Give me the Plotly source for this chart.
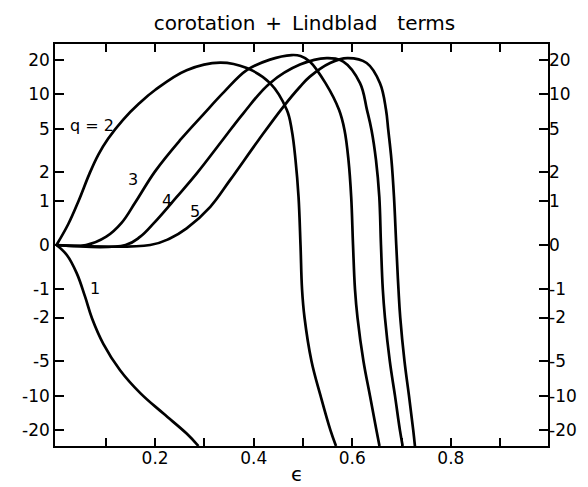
import numpy as np
import plotly.graph_objects as go

# ---- data (epsilon, value) ----
q1_x = [0, 0.021, 0.041, 0.058, 0.072, 0.095, 0.129, 0.17, 0.217, 0.264, 0.288]
q1_y = [0, -0.2, -0.59, -1.22, -2.03, -3.5, -6.0, -9.5, -14.3, -21.3, -27.3]

q2_x = [0, 0.024, 0.045, 0.067, 0.085, 0.105, 0.135, 0.168, 0.2, 0.264, 0.332,
        0.386, 0.4332, 0.4671, 0.4772, 0.4849, 0.491, 0.495, 0.4981, 0.5031,
        0.5173, 0.5356, 0.5558, 0.567]
q2_y = [0, 0.43, 1.0, 1.95, 2.94, 4.1, 6.0, 8.35, 10.9, 16.2, 18.85,
        16.9, 12.5, 7.33, 4.89, 2.62, 1.11, 0, -1, -2,
        -5, -10, -20, -27.3]

q3_x = [0, 0.06, 0.101, 0.132, 0.16, 0.2, 0.251, 0.298, 0.34, 0.386, 0.433, 0.477,
        0.495, 0.5143, 0.5457, 0.5731, 0.5842, 0.5923, 0.5978, 0.6015, 0.6055,
        0.6106, 0.6227, 0.6359, 0.6491, 0.6552]
q3_y = [0, 0, 0.166, 0.454, 0.956, 2.05, 3.98, 6.7, 10.5, 16.2, 20.0, 21.9,
        21.5, 19.2, 12.5, 7.33, 4.89, 2.62, 1.11, 0, -1,
        -2, -5, -10, -20, -27.3]

q4_x = [0, 0.14, 0.17, 0.197, 0.244, 0.285, 0.337, 0.379, 0.433, 0.494, 0.548,
        0.5818, 0.6157, 0.6298, 0.639, 0.6481, 0.6548, 0.6582, 0.6619, 0.6663,
        0.6761, 0.6866, 0.6967, 0.7022]
q4_y = [0, 0, 0.166, 0.443, 1.11, 1.97, 3.98, 6.84, 12.5, 18.1, 20.6,
        19.2, 12.5, 7.33, 4.89, 2.62, 1.11, 0, -1, -2,
        -5, -10, -20, -27.3]

q5_x = [0, 0.19, 0.23, 0.264, 0.312, 0.352, 0.41, 0.46, 0.494, 0.514, 0.555, 0.59,
        0.6292, 0.6562, 0.6684, 0.673, 0.6795, 0.6846, 0.6892, 0.6937, 0.6973,
        0.7059, 0.715, 0.7237, 0.7271]
q5_y = [0, 0, 0.13, 0.336, 0.836, 1.68, 3.98, 7.79, 11.64, 14.24, 18.7, 20.6,
        18.7, 12.5, 7.33, 4.89, 2.62, 1.11, 0, -1, -2,
        -5, -10, -20, -27.3]

x_tickvals = [0.1, 0.2, 0.3, 0.4, 0.5, 0.6, 0.7, 0.8, 0.9]
x_ticktext = ["", "0.2", "", "0.4", "", "0.6", "", "0.8", ""]
y_tick_values = [20, 10, 5, 2, 1, 0, -1, -2, -5, -10, -20]
y_tick_text = ["20", "10", "5", "2", "1", "0", "-1", "-2", "-5", "-10", "-20"]

labels = ["q = 2", "3", "4", "5", "1"]
label_x = [0.072, 0.156, 0.224, 0.28, 0.0785]
label_y = [5.4, 1.7, 1.02, 0.71, -0.99]

FONT = "DejaVu Sans"

def tr(v):
    return np.arcsinh(np.asarray(v, dtype=float))

fig = go.Figure()
for xs, ys in [(q1_x, q1_y), (q2_x, q2_y), (q3_x, q3_y), (q4_x, q4_y), (q5_x, q5_y)]:
    fig.add_trace(go.Scatter(x=xs, y=tr(ys), mode="lines",
                             line=dict(color="black", width=2.7, shape="spline", smoothing=1.1),
                             showlegend=False, hoverinfo="skip"))
# invisible trace to anchor the right-hand axis
fig.add_trace(go.Scatter(x=[0.5], y=[0], yaxis="y2", mode="markers",
                         marker=dict(opacity=0), showlegend=False, hoverinfo="skip"))

for t, lx, ly in zip(labels, label_x, label_y):
    fig.add_annotation(x=lx, y=float(tr(ly)), text=t, showarrow=False,
                       font=dict(family=FONT, size=16, color="black"))

fig.add_annotation(x=0.49, y=-0.07, xref="paper", yref="paper", text="ϵ", showarrow=False,
                   yanchor="middle",
                   font=dict(family=FONT, size=20, color="black"))

yrange = [-4.0, 4.0]
tick_font = dict(family=FONT, size=17, color="black")
fig.update_layout(
    width=588, height=487,
    margin=dict(l=55, r=40, t=44, b=41),
    paper_bgcolor="white", plot_bgcolor="white",
    title=dict(text="corotation\u2002+\u2002Lindblad\u2002\u2002terms",
               x=0.506, xanchor="center", xref="paper",
               y=1 - 22.5 / 487, yanchor="middle",
               font=dict(family=FONT, size=20, color="black")),
    xaxis=dict(range=[-0.003, 0.997], tickvals=x_tickvals, ticktext=x_ticktext,
               ticks="inside", ticklen=8, tickwidth=1.5, tickcolor="black",
               showline=True, linecolor="black", linewidth=1.5, mirror="ticks",
               showgrid=False, zeroline=False, tickfont=tick_font,
               ticklabelstandoff=-4),
    yaxis=dict(range=yrange, tickvals=list(tr(y_tick_values)), ticktext=y_tick_text,
               ticks="inside", ticklen=9, tickwidth=1.5, tickcolor="black",
               showline=True, linecolor="black", linewidth=1.5, mirror=True,
               showgrid=False, zeroline=False, tickfont=tick_font),
    yaxis2=dict(range=yrange, tickvals=list(tr(y_tick_values)), ticktext=y_tick_text,
                overlaying="y", side="right",
                ticks="inside", ticklen=9, tickwidth=1.5, tickcolor="black",
                showline=False, showgrid=False, zeroline=False, tickfont=tick_font),
)

fig.write_html("out.html", config={"displayModeBar": False},
               post_script="document.body.style.margin='0px';")
